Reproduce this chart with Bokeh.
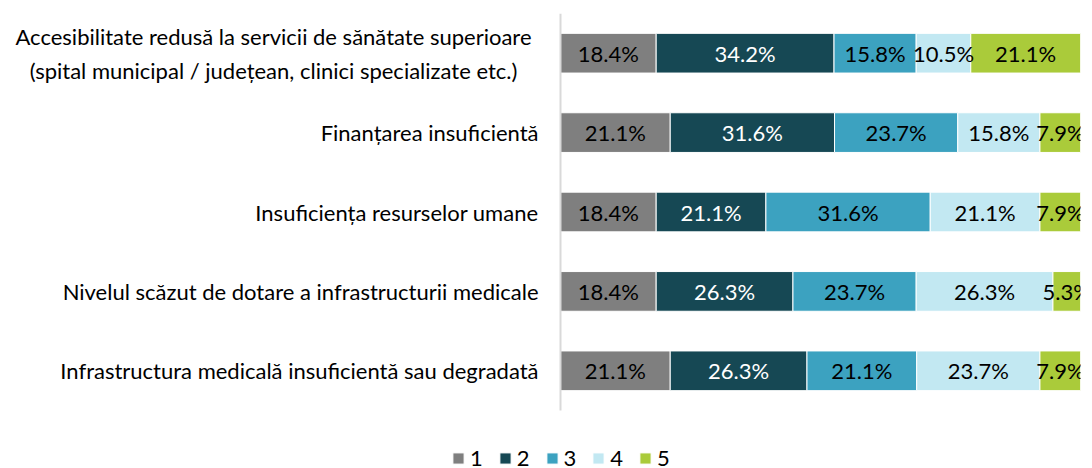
from bokeh.plotting import figure
from bokeh.models import (ColumnDataSource, Legend, LegendItem, Range1d, LinearAxis,
                          FixedTicker)
from bokeh.core.properties import value
from bokeh.embed import file_html
from bokeh.resources import INLINE

categories = [
    "Accesibilitate redusă la servicii de sănătate superioare\n(spital municipal / județean, clinici specializate etc.)",
    "Finanțarea insuficientă",
    "Insuficiența resurselor umane",
    "Nivelul scăzut de dotare a infrastructurii medicale",
    "Infrastructura medicală insuficientă sau degradată",
]
series_names = ["1", "2", "3", "4", "5"]
s1 = [18.4, 21.1, 18.4, 18.4, 21.1]
s2 = [34.2, 31.6, 21.1, 26.3, 26.3]
s3 = [15.8, 23.7, 31.6, 23.7, 21.1]
s4 = [10.5, 15.8, 21.1, 26.3, 23.7]
s5 = [21.1, 7.9, 7.9, 5.3, 7.9]
colors = ["#7F7F7F", "#164854", "#3CA2C0", "#C2E8F2", "#AACB3A"]
label_colors = ["#000000", "#FFFFFF", "#000000", "#000000", "#000000"]

FONT = "Lato"
FS = "22px"
series = [s1, s2, s3, s4, s5]
n = len(categories)
ypos = [n - 1 - i + 0.5 for i in range(n)]   # first category on top

data = {"y": ypos}
for nm, s in zip(series_names, series):
    data[nm] = s
src = ColumnDataSource(data)

# frame covers the whole canvas; value 0 sits at 560px, 100 at 1080px
PX_PER_UNIT = 520 / 100
BAND_PX = 79.4
p = figure(
    x_range=Range1d(-560 / PX_PER_UNIT, 100),
    y_range=Range1d(n - 455 / BAND_PX, n),
    x_axis_location=None, y_axis_location=None,
    output_backend="svg", toolbar_location=None,
    min_border_left=0, min_border_right=4, min_border_top=13, min_border_bottom=0,
)
p.frame_width = 1080
p.frame_height = 455

renderers = p.hbar_stack(series_names, y="y", height=0.5, color=colors, source=src,
                         line_color="white", line_width=1)

# data labels
for i, (nm, s) in enumerate(zip(series_names, series)):
    starts = [sum(series[k][j] for k in range(i)) for j in range(n)]
    mids = [st + v / 2 for st, v in zip(starts, s)]
    txt = [f"{v:.1f}%" for v in s]
    p.text(x=mids, y=ypos, text=txt, text_align="center", text_baseline="middle",
           text_font=value(FONT), text_font_size=FS, text_color=label_colors[i])

# vertical category axis at value 0
yax = LinearAxis(fixed_location=0, ticker=FixedTicker(ticks=ypos), bounds=(0, n))
yax.axis_line_color = "#D9D9D9"
yax.axis_line_width = 2
yax.major_tick_line_color = None
yax.minor_tick_line_color = None
yax.major_tick_out = 0
yax.major_tick_in = 0
yax.major_label_text_font = FONT
yax.major_label_text_font_size = FS
yax.major_label_text_color = "#000000"
yax.major_label_standoff = 22
yax.major_label_overrides = {y: ("" if i == 0 else c) for i, (y, c) in enumerate(zip(ypos, categories))}
p.add_layout(yax, "left")

# first (two-line) category label, centred like the reference
p.text(x=[-287 / PX_PER_UNIT], y=[ypos[0]], text=[categories[0]],
       text_align="center", text_baseline="middle", text_line_height=1.25,
       text_font=value(FONT), text_font_size=FS, text_color="#000000")

p.xgrid.visible = False
p.ygrid.visible = False
p.outline_line_color = None

legend = Legend(
    items=[LegendItem(label=nm, renderers=[r]) for nm, r in zip(series_names, renderers)],
    orientation="horizontal", location=(451, -3),
    label_text_font=FONT, label_text_font_size=FS, label_text_color="#000000",
    glyph_width=14, glyph_height=14, label_standoff=5, label_width=11, spacing=15,
    border_line_color=None, background_fill_alpha=0, padding=0, margin=0,
)
p.add_layout(legend)

open("out.html", "w").write(file_html(p, INLINE))
